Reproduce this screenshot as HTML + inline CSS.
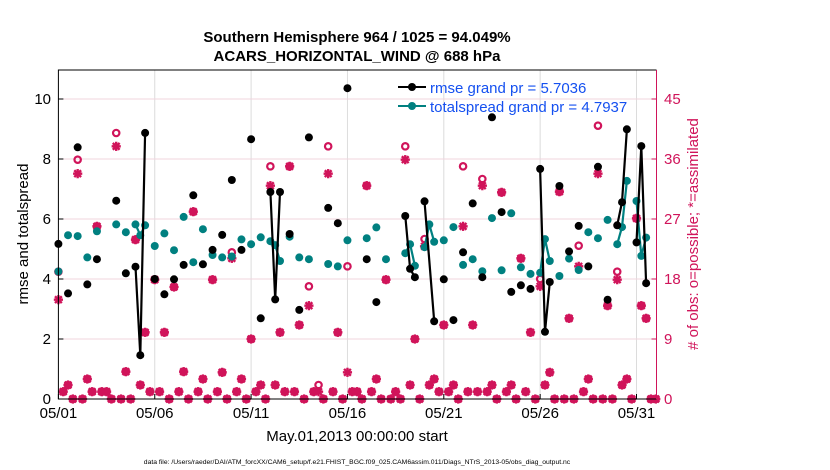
<!DOCTYPE html>
<html><head><meta charset="utf-8"><style>
html,body{margin:0;padding:0;background:#fff;}
svg{display:block;font-family:"Liberation Sans",Arial,sans-serif;}
</style></head><body>
<svg id="chart" width="830" height="470" viewBox="0 0 830 470" xmlns="http://www.w3.org/2000/svg">
<text x="357" y="42" text-anchor="middle" font-size="15" font-weight="bold">Southern Hemisphere 964 / 1025 = 94.049%</text>
<text x="357" y="61" text-anchor="middle" font-size="15" font-weight="bold">ACARS_HORIZONTAL_WIND @ 688 hPa</text>
<g id="grid"></g>
<g id="marks"></g>
<g id="axes"></g>
<text transform="translate(28,234) rotate(-90)" text-anchor="middle" font-size="15">rmse and totalspread</text>
<text transform="translate(698,234) rotate(-90)" text-anchor="middle" font-size="15" fill="#d0145a"># of obs: o=possible; *=assimilated</text>
<text x="357" y="441" text-anchor="middle" font-size="15">May.01,2013 00:00:00 start</text>
<text x="357" y="464" text-anchor="middle" font-size="6.8">data file: /Users/raeder/DAI/ATM_forcXX/CAM6_setup/f.e21.FHIST_BGC.f09_025.CAM6assim.011/Diags_NTrS_2013-05/obs_diag_output.nc</text>
<g>
<line x1="398" y1="87" x2="426" y2="87" stroke="#000" stroke-width="2"/>
<circle cx="412" cy="87" r="4" fill="#000"/>
<text x="430" y="93" font-size="15" fill="#1450f0">rmse grand pr = 5.7036</text>
<line x1="398" y1="106" x2="426" y2="106" stroke="#008080" stroke-width="2"/>
<circle cx="412" cy="106" r="4" fill="#008080"/>
<text x="430" y="112" font-size="15" fill="#1450f0">totalspread grand pr = 4.7937</text>
</g>
</svg>
<script>
const rmseDays = [0,null,0.5,null,1,null,1.5,null,2,null,3,null,3.5,null,4,4.25,4.5,null,5,null,5.5,null,6,null,6.5,null,7,null,7.5,null,8,null,8.5,null,9,null,9.5,null,10,null,10.5,null,11,11.25,11.5,null,12,null,12.5,null,13,null,14,null,14.5,null,15,null,16,null,16.5,null,18,18.25,18.5,null,19,19.5,null,20,null,20.5,null,21,null,21.5,null,22,null,22.5,null,23,null,23.5,null,24,null,24.5,null,25,25.25,25.5,null,26,null,26.5,null,27,null,27.5,null,28,null,28.5,null,29,29.25,29.5,null,30,30.25,30.5];
const rmseVals = [5.17,null,3.52,null,8.39,null,3.82,null,4.66,null,6.61,null,4.19,null,4.41,1.46,8.87,null,4.0,null,3.49,null,3.99,null,4.47,null,6.79,null,4.49,null,4.97,null,5.47,null,7.3,null,4.97,null,8.66,null,2.69,null,6.9,3.32,6.9,null,5.5,null,2.97,null,8.72,null,6.37,null,5.86,null,10.36,null,4.66,null,3.23,null,6.1,4.34,4.06,null,6.59,2.59,null,3.99,null,2.63,null,4.89,null,6.52,null,4.06,null,9.39,null,6.23,null,3.57,null,3.79,null,3.67,null,7.67,2.24,3.9,null,7.1,null,4.92,null,5.77,null,4.42,null,7.74,null,3.31,null,5.79,6.56,8.99,null,5.22,8.43,3.86];
const spreadDays = [0,null,0.5,null,1,null,1.5,null,2,null,3,null,3.5,null,4,4.25,4.5,null,5,null,5.5,null,6,null,6.5,null,7,null,7.5,null,8,null,8.5,null,9,null,9.5,null,10,null,10.5,null,11,11.25,11.5,null,12,null,12.5,null,13,null,14,null,14.5,null,15,null,16,null,16.5,null,17,null,18,18.25,18.5,null,19,19.25,19.5,null,20,null,20.5,null,21,null,21.5,null,22,null,22.5,null,23,null,23.5,null,24,null,24.5,null,25,25.25,25.5,null,26,null,26.5,null,27,null,27.5,null,28,null,28.5,null,29,29.25,29.5,null,30,30.25,30.5];
const spreadVals = [4.25,null,5.46,null,5.43,null,4.72,null,5.59,null,5.82,null,5.56,null,5.82,5.46,5.79,null,5.1,null,5.52,null,4.96,null,6.07,null,4.56,null,5.66,null,4.8,null,4.72,null,4.75,null,5.32,null,5.16,null,5.39,null,5.26,5.13,4.6,null,5.41,null,4.72,null,4.66,null,4.5,null,4.42,null,5.29,null,5.36,null,5.72,null,4.66,null,4.86,5.16,4.44,null,5.06,5.82,5.24,null,5.29,null,5.73,null,4.47,null,4.66,null,4.26,null,6.03,null,4.29,null,6.19,null,4.39,null,4.17,null,4.21,5.33,4.6,null,4.1,null,4.68,null,4.3,null,5.56,null,5.36,null,5.97,null,5.16,5.73,7.27,null,6.6,4.77,5.38];
const obsDays = [0,0.25,0.5,0.75,1,1.25,1.5,1.75,2,2.25,2.5,2.75,3,3.25,3.5,3.75,4,4.25,4.5,4.75,5,5.25,5.5,5.75,6,6.25,6.5,6.75,7,7.25,7.5,7.75,8,8.25,8.5,8.75,9,9.25,9.5,9.75,10,10.25,10.5,10.75,11,11.25,11.5,11.75,12,12.25,12.5,12.75,13,13.25,13.5,13.75,14,14.25,14.5,14.75,15,15.25,15.5,15.75,16,16.25,16.5,16.75,17,17.25,17.5,17.75,18,18.25,18.5,18.75,19,19.25,19.5,19.75,20,20.25,20.5,20.75,21,21.25,21.5,21.75,22,22.25,22.5,22.75,23,23.25,23.5,23.75,24,24.25,24.5,24.75,25,25.25,25.5,25.75,26,26.25,26.5,26.75,27,27.25,27.5,27.75,28,28.25,28.5,28.75,29,29.25,29.5,29.75,30,30.25,30.5,30.75,31];
const obsPossible = [19.1,1.1,2.1,0,35.9,0,3,1.1,25.9,1.1,1.1,0,39.9,0,4.1,0,23.9,2.1,10,1.1,17.9,1.1,10,0,16.8,1.1,4.1,0,28.1,1.1,3,0,17.9,1.1,4,0,22,1.1,3,0,9,1.1,2.1,0,34.9,2.1,10,1.1,34.9,1.1,11.1,0,16.9,1.1,2.1,0,37.9,1.1,10,0,19.9,1.1,1.1,0,32,1.1,3,0,17.9,0,1.1,0,37.9,2.1,9,0,24,2.1,3,1.1,11.1,1.1,2.1,0,34.9,1.1,11.1,1.1,33,1.1,2.1,0,31,1.1,2.1,0,21.1,1.1,10,0,18,2.1,4,0,31.1,0,12.1,0,23,1.1,3,0,41,0,14,0,19.1,2.1,3,0,27.1,14,12.1,0,0];
const obsUsed = [14.9,1.1,2.1,0,33.8,0,3,1.1,25.9,1.1,1.1,0,37.9,0,4.1,0,23.9,2.1,10,1.1,17.9,1.1,10,0,16.8,1.1,4.1,0,28.1,1.1,3,0,17.9,1.1,4,0,21.1,1.1,3,0,9,1.1,2.1,0,32,2.1,10,1.1,34.9,1.1,11.1,0,14,1.1,1.1,0,33.8,1.1,10,0,4,1.1,1.1,0,32,1.1,3,0,17.9,0,1.1,0,35.9,2.1,9,0,22.9,2.1,3,1.1,11.1,1.1,2.1,0,25.9,1.1,11.1,1.1,32,1.1,2.1,0,31,1.1,2.1,0,21.1,1.1,10,0,16.9,2.1,4,0,31.1,0,12.1,0,19.9,1.1,3,0,33.8,0,14,0,17.9,2.1,3,0,27.1,14,12.1,0,0];
const leftTicks = [0,2,4,6,8,10];
const rightTicks = [0,9,18,27,36,45];
const xTickDays = [0,5,10,15,20,25,30];
const xTickLabels = ["05/01","05/06","05/11","05/16","05/21","05/26","05/31"];

const NS="http://www.w3.org/2000/svg";
const X0=58.4, PX_PER_DAY=19.27, YB=399, YT=70, XR=656.5;
function xS(d){return X0+d*PX_PER_DAY;}
function yL(v){return YB-v*30;}
function yR(v){return YB-v*60/9;}
function mk(tag,attrs,parent){const e=document.createElementNS(NS,tag);for(const k in attrs)e.setAttribute(k,attrs[k]);parent.appendChild(e);return e;}
const grid=document.getElementById('grid'), marks=document.getElementById('marks'), axes=document.getElementById('axes');
const PINK="#d0145a", TEAL="#008080";

xTickDays.forEach((d,i)=>{
  if(d>0){const g=mk('line',{x1:xS(d),y1:YT,x2:xS(d),y2:YB,stroke:"#dcdcdc","stroke-width":1},grid);
  
  }
  const t=mk('line',{x1:xS(d),y1:YB,x2:xS(d),y2:YB-5,stroke:"#000"},axes);
  
  
  const tx=mk('text',{x:xS(d),y:418,"text-anchor":"middle","font-size":15},axes);
  tx.textContent=xTickLabels[i];
  
  
});
leftTicks.forEach(v=>{
  if(v>0){const g=mk('line',{x1:X0,y1:yL(v),x2:XR,y2:yL(v),stroke:"#f0d4de","stroke-width":1},grid);
  
  }
  mk('line',{x1:X0,y1:yL(v),x2:X0+5,y2:yL(v),stroke:"#000"},axes);
  const tx=mk('text',{x:51,y:yL(v)+5,"text-anchor":"end","font-size":15},axes);
  tx.textContent=v;
  
  
});
rightTicks.forEach(v=>{
  mk('line',{x1:XR,y1:yR(v),x2:XR-5,y2:yR(v),stroke:PINK},axes);
  const tx=mk('text',{x:664,y:yR(v)+5,"font-size":15,fill:PINK},axes);
  tx.textContent=v;
  
  
});
mk('path',{d:`M${XR},${YT} H${X0} V${YB} H${XR}`,fill:"none",stroke:"#000","stroke-width":1},axes);
const ra=mk('line',{x1:XR,y1:YT,x2:XR,y2:YB,stroke:PINK,"stroke-width":1},axes);



obsDays.forEach((d,i)=>{
  const x=xS(d), yp=yR(obsPossible[i]), yu=yR(obsUsed[i]);
  const c=mk('circle',{cx:x,cy:yp,r:3.2,fill:"none",stroke:PINK,"stroke-width":2.2},marks);
  
  
  const g=mk('g',{stroke:PINK,"stroke-width":2.4},marks);
  
  
  const s=4.6, s2=3.4;
  mk('line',{x1:x-s,y1:yu,x2:x+s,y2:yu},g);
  mk('line',{x1:x,y1:yu-s,x2:x,y2:yu+s},g);
  mk('line',{x1:x-s2,y1:yu-s2,x2:x+s2,y2:yu+s2},g);
  mk('line',{x1:x-s2,y1:yu+s2,x2:x+s2,y2:yu-s2},g);
});

function drawSeries(days,vals,color,name){
  let path="", pen=false;
  days.forEach((d,i)=>{
    if(d===null||vals[i]===null){pen=false;return;}
    path+=(pen?"L":"M")+xS(d).toFixed(1)+","+yL(vals[i]).toFixed(1)+" ";
    pen=true;
  });
  const p=mk('path',{d:path,fill:"none",stroke:color,"stroke-width":2.2},marks);
  
  
  days.forEach((d,i)=>{
    if(d===null||vals[i]===null)return;
    const c=mk('circle',{cx:xS(d),cy:yL(vals[i]),r:4,fill:color},marks);
    
    
  });
}
drawSeries(spreadDays,spreadVals,TEAL,'totalspread');
drawSeries(rmseDays,rmseVals,"#000",'rmse');
</script>
</body></html>
